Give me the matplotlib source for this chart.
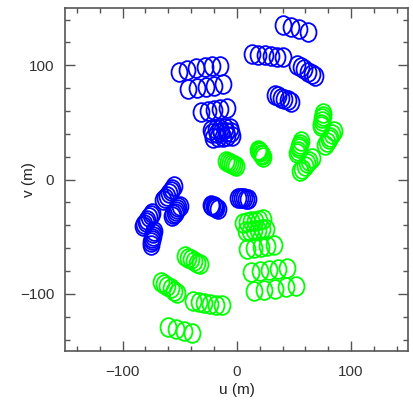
import matplotlib
matplotlib.use('Agg')
import matplotlib.pyplot as plt
from matplotlib.path import Path
from matplotlib.transforms import Affine2D
from matplotlib.ticker import MultipleLocator

## uv points (metres) ##
blue_u = [40.4, 47.7, 54.7, 62.0,
          13.3, 18.8, 24.5, 29.7, 35.0, 40.4,
          52.7, 55.9, 59.1, 62.3, 65.4, 68.7,
          33.1, 36.0, 38.8, 41.7, 44.5, 47.4,
          -50.7, -43.3, -35.4, -27.6, -21.4, -14.9,
          -42.4, -34.6, -27.1, -19.7, -11.8,
          -31.1, -25.4, -19.7, -14.4, -8.6,
          -22.7, -18.5, -14.3, -10.2, -6.1,
          -21.5, -17.5, -13.4, -9.3, -5.2,
          -20.6, -16.6, -12.5, -8.5, -4.4,
          -22.7, -21.5, -20.3, -19.0, -17.8, -16.6,
          1.0, 2.8, 4.5, 6.3, 8.0, 9.8,
          -54.7, -56.4, -58.0, -59.7, -61.3, -63.0, -64.6,
          -50.0, -51.1, -52.2, -53.4, -54.5, -55.6, -56.7,
          -74.2, -75.5, -76.8, -78.2, -79.5, -80.8, -82.1,
          -72.8, -73.2, -73.6, -74.0, -74.3, -74.7, -75.1]
blue_v = [135.4, 133.2, 131.4, 129.0,
          109.8, 109.3, 108.9, 108.3, 107.6, 106.8,
          100.4, 98.4, 96.3, 94.3, 92.3, 90.2,
          74.2, 72.9, 71.7, 70.4, 69.2, 67.9,
          94.3, 96.1, 97.4, 98.3, 99.0, 99.6,
          79.0, 80.3, 81.2, 82.1, 83.4,
          59.1, 60.0, 60.9, 61.7, 62.6,
          43.7, 44.1, 44.5, 44.9, 45.4,
          40.5, 41.0, 41.2, 41.5, 41.9,
          36.7, 37.1, 37.6, 38.0, 38.4,
          -22.3, -22.9, -23.5, -24.1, -24.7, -25.3,
          -15.7, -15.9, -16.2, -16.4, -16.7, -17.0,
          -5.9, -7.9, -10.0, -12.0, -14.0, -16.1, -18.1,
          -22.7, -24.3, -25.8, -27.4, -29.0, -30.5, -32.1,
          -29.1, -31.1, -33.0, -35.0, -36.9, -38.9, -40.8,
          -45.2, -47.1, -49.1, -51.0, -52.9, -54.9, -56.8]

green_u = [75.4, 75.1, 74.7, 74.4, 74.0, 73.7,
           84.7, 83.2, 81.8, 80.3, 78.9, 77.4,
           56.2, 55.5, 54.8, 54.1, 53.4, 52.7,
           65.8, 63.6, 61.4, 59.3, 57.1, 54.9,
           -9.6, -7.8, -5.9, -4.1, -2.2, -0.4,
           18.8, 19.6, 20.4, 21.1, 21.9, 22.7,
           5.7, 9.2, 12.7, 16.2, 19.7, 23.2,
           8.3, 11.8, 15.3, 18.8, 22.3, 25.8,
           8.9, 14.9, 20.9, 26.8, 32.8,
           12.4, 20.3, 28.2, 36.0, 43.9,
           14.7, 24.1, 33.4, 42.8, 52.1,
           -45.1, -42.5, -39.8, -37.2, -34.5, -31.9,
           -66.3, -63.5, -60.7, -57.9, -55.1, -52.3,
           -38.7, -33.5, -28.4, -23.2, -18.1, -12.9,
           -60.5, -53.4, -46.3, -39.2]
green_v = [58.3, 56.0, 53.6, 51.3, 48.9, 46.6,
           42.2, 39.9, 37.6, 35.2, 32.9, 30.6,
           33.4, 31.4, 29.4, 27.3, 25.3, 23.3,
           19.0, 16.6, 14.3, 11.9, 9.6, 7.2,
           16.6, 15.6, 14.7, 13.7, 12.8, 11.8,
           26.2, 25.0, 23.8, 22.5, 21.3, 20.1,
           -37.6, -37.1, -36.5, -36.0, -35.4, -34.9,
           -45.4, -44.9, -44.3, -43.8, -43.3, -42.8,
           -60.3, -59.6, -58.8, -58.1, -57.4,
           -80.6, -79.7, -78.9, -78.0, -77.1,
           -97.6, -96.5, -95.4, -94.3, -93.2,
           -67.0, -68.4, -69.9, -71.3, -72.8, -74.2,
           -89.7, -91.5, -93.4, -95.2, -97.1, -98.9,
           -106.3, -107.0, -107.8, -108.5, -109.3, -110.0,
           -128.6, -130.4, -132.1, -133.9]

plt.rcParams['font.family'] = ['Liberation Sans', 'DejaVu Sans']

# slightly tall open ellipse marker
ring = Path.unit_circle().transformed(Affine2D().scale(0.85, 1.0))

fig = plt.figure(figsize=(4.14, 4.04), dpi=100)
ax = fig.add_axes([0.158, 0.131, 0.828, 0.849])

ax.plot(blue_u, blue_v, linestyle='none', marker=ring, markersize=13.5,
        markerfacecolor='none', markeredgecolor='#0000ff', markeredgewidth=1.3)
ax.plot(green_u, green_v, linestyle='none', marker=ring, markersize=13.5,
        markerfacecolor='none', markeredgecolor='#00ff00', markeredgewidth=1.3)

ax.set_xlim(-150, 150)
ax.set_ylim(-150, 150)
ax.xaxis.set_major_locator(MultipleLocator(100))
ax.yaxis.set_major_locator(MultipleLocator(100))
ax.xaxis.set_minor_locator(MultipleLocator(20))
ax.yaxis.set_minor_locator(MultipleLocator(20))
ax.tick_params(which='both', direction='in', top=True, right=True,
               color='#555555', labelcolor='#333333', labelsize=11)
ax.tick_params(which='major', length=7, width=1)
ax.tick_params(axis='x', which='major', pad=10)
ax.tick_params(axis='y', which='major', pad=8)
ax.tick_params(which='minor', length=3.5, width=1)
for s in ax.spines.values():
    s.set_color('#555555')
    s.set_linewidth(1.2)

ax.set_xlabel('u (m)', fontsize=11, color='#222222', va='center')
ax.set_ylabel('v (m)', fontsize=11, color='#222222', va='center')
ax.xaxis.set_label_coords(0.5, -0.113)
ax.yaxis.set_label_coords(-0.106, 0.5)

fig.savefig('out.png', dpi=100)
